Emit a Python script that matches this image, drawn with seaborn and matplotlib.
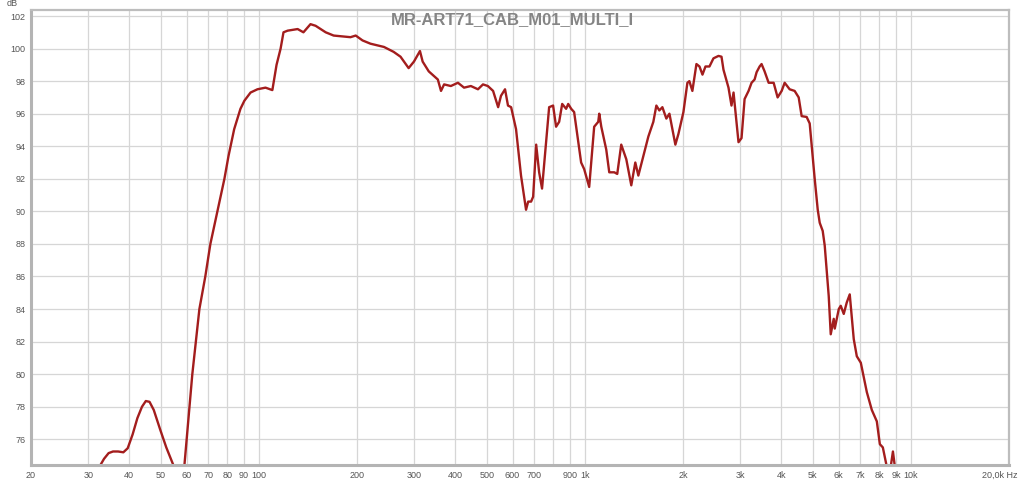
import matplotlib
matplotlib.use("Agg")
import matplotlib.pyplot as plt
import matplotlib.transforms as mtransforms
import seaborn as sns
import pandas as pd

# frequency response
freq_hz = [
    32.4, 33.5, 34.6, 35.7, 37.0, 38.4, 39.6, 41.0, 42.4, 43.8, 45.0, 46.2,
    47.6, 49.8, 52.0, 54.7, 56.5, 59.1, 62.5, 65.7, 68.5,
    71.0, 74.6, 78.4, 80.7, 84.0, 87.8, 90.3, 94.3, 99.0, 104.8, 110.0, 113.3,
    116.6, 119.0, 122.5, 131.5, 137.0, 144.0, 149.3, 154.7, 160.3, 169.6, 191.0,
    198.2, 208, 220, 231, 242, 259, 272, 288, 299, 312, 318, 332, 354, 362, 370,
    388, 408, 426, 447, 470, 487, 504, 523, 542, 553, 569, 581, 594, 615, 637,
    660, 670, 684, 694, 709, 724, 739, 761, 777, 799, 816, 834, 852, 876, 889,
    908, 927, 954, 974, 995, 1031, 1068, 1099, 1107, 1123, 1163, 1188, 1231,
    1257, 1293, 1340, 1388, 1428, 1459, 1511, 1566, 1622, 1657, 1692, 1729,
    1778, 1817, 1895, 1936, 2006, 2063, 2092, 2137, 2199, 2247, 2295, 2344,
    2411, 2480, 2570, 2625, 2662, 2758, 2817, 2858, 2918, 2960, 3024, 3090,
    3178, 3246, 3316, 3364, 3436, 3484, 3559, 3662, 3794, 3902, 4015, 4101,
    4248, 4400, 4528, 4624, 4790, 4894, 5070, 5180, 5253, 5365, 5442, 5598,
    5678, 5800, 5842, 6010, 6094, 6225, 6358, 6494, 6681, 6826, 7022, 7326,
    7590, 7863, 8032, 8204, 8439, 8600, 8810, 8934, 9000,
]
spl_db = [
    74.3, 74.8, 75.15, 75.25, 75.25, 75.2, 75.45, 76.3, 77.3, 78.0, 78.35, 78.3,
    77.8, 76.6, 75.5, 74.4, 73.2, 74.4, 80.0, 84.0, 86.0,
    88.0, 90.0, 92.0, 93.4, 95.05, 96.3, 96.8, 97.3, 97.5, 97.6, 97.45, 99.0,
    100.0, 101.0, 101.1, 101.2, 101.0, 101.5, 101.4, 101.2, 101.0, 100.8, 100.7,
    100.8, 100.5, 100.3, 100.2, 100.1, 99.8, 99.5, 98.8, 99.2, 99.85, 99.2,
    98.6, 98.1, 97.4, 97.8, 97.7, 97.9, 97.6, 97.7, 97.5, 97.8, 97.7, 97.4,
    96.4, 97.1, 97.5, 96.5, 96.4, 95.05, 92.2, 90.1, 90.6, 90.6, 90.9, 94.1,
    92.4, 91.4, 94.3, 96.4, 96.5, 95.2, 95.5, 96.6, 96.3, 96.6, 96.3, 96.1,
    94.3, 93.0, 92.6, 91.5, 95.2, 95.5, 96.0, 95.2, 93.8, 92.4, 92.4, 92.3,
    94.1, 93.2, 91.6, 93.0, 92.2, 93.4, 94.6, 95.5, 96.5, 96.2, 96.4, 95.7,
    96.0, 94.1, 94.75, 96.1, 97.9, 98.0, 97.4, 99.05, 98.9, 98.4, 98.9, 98.9,
    99.4, 99.55, 99.5, 98.7, 97.6, 96.5, 97.3, 95.5, 94.25, 94.5, 96.9, 97.4,
    97.9, 98.1, 98.55, 98.9, 99.05, 98.6, 97.9, 97.9, 97.0, 97.4, 97.9, 97.5,
    97.4, 97.0, 95.85, 95.8, 95.4, 92.0, 90.1, 89.3, 88.8, 87.9, 84.8, 82.45,
    83.4, 82.8, 84.0, 84.2, 83.7, 84.4, 84.9, 82.15, 81.1, 80.7, 78.9, 77.8,
    77.1, 75.7, 75.5, 74.3, 73.8, 75.25, 74.3, 73.5,
]

x_ticks = [20, 30, 40, 50, 60, 70, 80, 90, 100, 200, 300, 400, 500, 600, 700,
           800, 900, 1000, 2000, 3000, 4000, 5000, 6000, 7000, 8000, 9000,
           10000, 20000]
x_labels = ["20", "30", "40", "50", "60", "70", "80", "90", "100", "200", "300",
            "400", "500", "600", "700", "", "900", "1k", "2k", "3k", "4k", "5k",
            "6k", "7k", "8k", "9k", "10k", "20,0k Hz"]
y_ticks = list(range(76, 103, 2))

df = pd.DataFrame({"freq": freq_hz, "db": spl_db})

sns.set_style("white")
plt.rcParams["font.family"] = ["Liberation Sans", "DejaVu Sans"]

fig = plt.figure(figsize=(10.24, 4.83), dpi=100)
ax = fig.add_axes([31 / 1024, 1 - 465 / 483, 978 / 1024, 455 / 483])

sns.lineplot(data=df, x="freq", y="db", ax=ax, color="#a31d1d", linewidth=1.7,
             sort=False, estimator=None)

ax.set_xscale("log")
ax.set_xlim(20, 20000)
ax.set_ylim(74.42, 102.37)
ax.set_xticks(x_ticks)
ax.set_xticklabels(x_labels)
ax.minorticks_off()
ax.set_yticks(y_ticks)
ax.set_yticklabels([str(v) for v in y_ticks])
ax.grid(True, color="#d6d6d6", linewidth=0.9)
ax.tick_params(axis="both", length=0, labelsize=6.5, labelcolor="#555555")
ax.tick_params(axis="x", pad=4)
ax.tick_params(axis="y", pad=4)
ax.set_xlabel("")
ax.set_ylabel("")

# last label sits left of its tick, with "Hz" trailing
last = ax.get_xticklabels()[-1]
last.set_horizontalalignment("right")
last.set_transform(last.get_transform() + mtransforms.ScaledTranslation(8 / 100, 0, fig.dpi_scale_trans))

for side in ["left", "bottom"]:
    ax.spines[side].set_color("#b4b4b4")
    ax.spines[side].set_linewidth(2.2)
for side in ["top", "right"]:
    ax.spines[side].set_color("#bdbdbd")
    ax.spines[side].set_linewidth(1.6)

fig.text(0.5, 1 - 12 / 483, "MR-ART71_CAB_M01_MULTI_I",
         ha="center", va="top", fontsize=12, fontweight="bold", color="#858585")
fig.text(12 / 1024, 1 - 4 / 483, "dB", ha="center", va="center", fontsize=6.5,
         color="#555555")

fig.savefig("out.png", dpi=100)
plt.close(fig)
